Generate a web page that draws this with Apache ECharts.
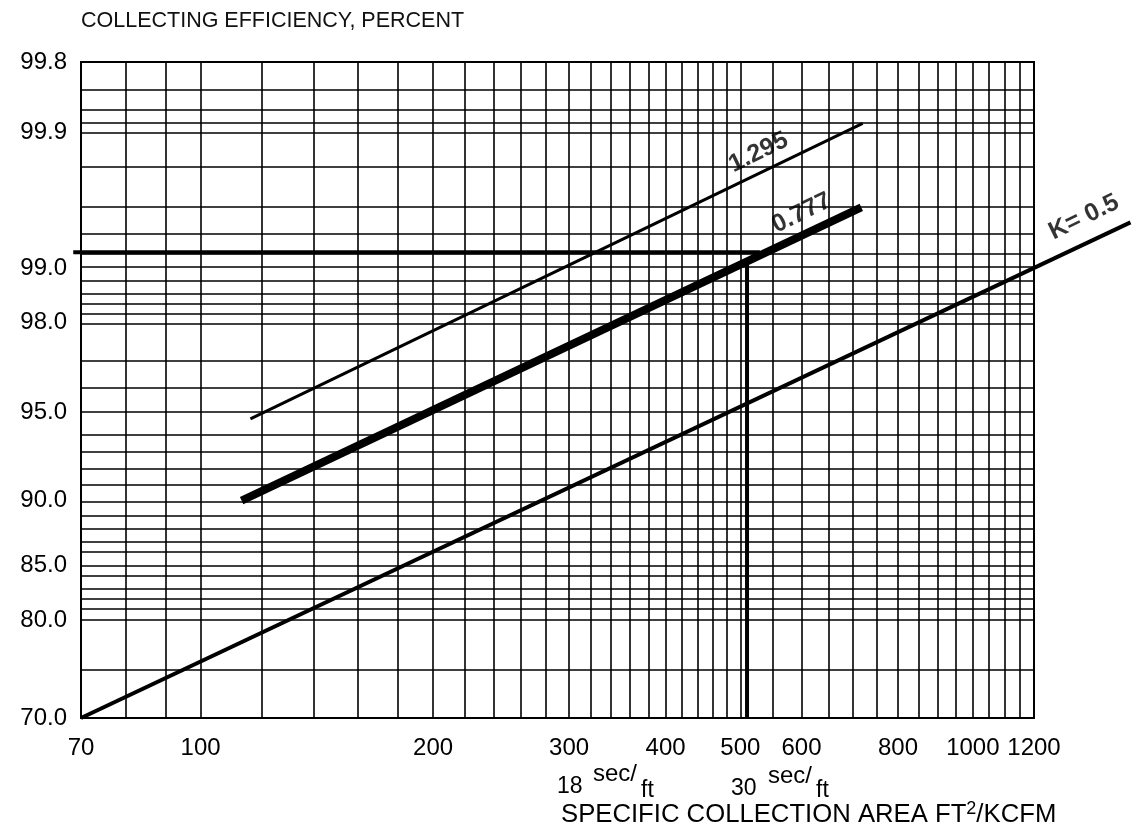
<!DOCTYPE html>
<html>
<head>
<meta charset="utf-8">
<script src="https://cdn.jsdelivr.net/npm/echarts@6/dist/echarts.min.js"></script>
<style>
  html, body { margin: 0; background: #fff; }
  #main { width: 1135px; height: 831px; }
</style>
</head>
<body>
<div id="main"></div>
<script>
// efficiency axis is drawn as t = ln(-ln(1 - E)), area axis is log10
const xTicks = [70, 100, 200, 300, 400, 500, 600, 800, 1000, 1200]
const yTickPct = [70, 80, 85, 90, 95, 98, 99, 99.9, 99.98]
const yTickText = ['70.0', '80.0', '85.0', '90.0', '95.0', '98.0', '99.0', '99.9', '99.8']

const xGrid = [80, 90, 100, 120, 140, 160, 180, 200, 220, 240, 260, 280, 300, 320, 340, 360, 380,
  400, 420, 440, 460, 480, 500, 550, 600, 650, 700, 750, 800, 850, 900, 950, 1000, 1050, 1100, 1150]
const yGrid = [75, 80, 81, 82, 83, 84, 85, 86, 87, 88, 89, 90, 91, 92, 93, 94, 95, 96, 97, 98,
  98.2, 98.4, 98.6, 98.8, 99, 99.2, 99.4, 99.6, 99.8, 99.9, 99.92, 99.94, 99.96]

// [area ft2/kcfm, efficiency %]
const lineK05 = [[70, 70.0], [1600, 99.49]]
const line0777 = [[113, 90.0], [717, 99.60]]
const line1295 = [[116, 94.7], [720, 99.917]]
const refLevel = [[68.4, 99.2], [530, 99.2]]
const refArea = [[510, 99.05], [510, 70.0]]

const lineLabels = ['1.295', '0.777', 'K= 0.5']
const labelX = [528, 600, 1393]
const labelY = [99.85, 99.56, 99.53]

const FONT = 'Liberation Sans, Arial, Helvetica, sans-serif'

function tOf (p) {
  return Math.log(-Math.log(1 - p / 100))
}
function toXY (arr) {
  return arr.map(d => [d[0], tOf(d[1])])
}

const yTickT = yTickPct.map(tOf)

// second, wider grid with the same scale so lines can run past the frame
const plotW = 1135 - 81 - 101
const pxPerDecade = plotW / Math.log10(1200 / 70)
const wideMin = 70 * Math.pow(10, -8 / pxPerDecade)
const wideMax = 70 * Math.pow(10, (1135 - 81) / pxPerDecade)

const chart = echarts.init(document.getElementById('main'))

function plainLine (name, data, width, axisIdx) {
  return {
    name: name,
    type: 'line',
    xAxisIndex: axisIdx,
    yAxisIndex: axisIdx,
    data: toXY(data),
    showSymbol: false,
    clip: false,
    z: 5,
    lineStyle: { color: '#000', width: width, cap: 'butt' },
    silent: true
  }
}

const sub = { fontFamily: FONT, color: '#000' }

chart.setOption({
  animation: false,
  backgroundColor: '#fff',
  title: {
    text: 'COLLECTING EFFICIENCY, PERCENT',
    left: 81,
    top: 10,
    padding: 0,
    textStyle: { fontFamily: FONT, fontSize: 21.5, fontWeight: 'normal', color: '#111' }
  },
  grid: [
    {
      left: 81,
      right: 101,
      top: 62,
      bottom: 113,
      show: true,
      borderColor: '#000',
      borderWidth: 2,
      backgroundColor: 'transparent'
    },
    { left: 73, right: 0, top: 62, bottom: 113, show: false }
  ],
  xAxis: [
    {
      type: 'log',
      logBase: 10,
      min: 70,
      max: 1200,
      axisLine: { show: false },
      axisTick: { show: false },
      splitLine: { show: false },
      axisLabel: {
        customValues: xTicks,
        formatter: v => String(Math.round(v)),
        fontFamily: FONT,
        fontSize: 24,
        color: '#000',
        margin: 18
      }
    },
    { type: 'log', logBase: 10, gridIndex: 1, min: wideMin, max: wideMax, show: false }
  ],
  yAxis: [
    {
      type: 'value',
      min: tOf(70),
      max: tOf(99.98),
      axisLine: { show: false },
      axisTick: { show: false },
      splitLine: { show: false },
      axisLabel: {
        customValues: yTickT,
        formatter: v => {
          const i = yTickT.findIndex(t => Math.abs(t - v) < 1e-6)
          return i >= 0 ? yTickText[i] : ''
        },
        fontFamily: FONT,
        fontSize: 24,
        color: '#000',
        margin: 14
      }
    },
    { type: 'value', gridIndex: 1, min: tOf(70), max: tOf(99.98), show: false }
  ],
  graphic: [
    { type: 'text', left: 557, top: 775, style: { text: '18', font: '23px ' + FONT, fill: '#000' } },
    { type: 'text', left: 593, top: 762, style: { text: 'sec/', font: '24px ' + FONT, fill: '#000' } },
    { type: 'text', left: 641, top: 779, style: { text: 'ft', font: '23px ' + FONT, fill: '#000' } },
    { type: 'text', left: 731, top: 777, style: { text: '30', font: '23px ' + FONT, fill: '#000' } },
    { type: 'text', left: 768, top: 764, style: { text: 'sec/', font: '24px ' + FONT, fill: '#000' } },
    { type: 'text', left: 816, top: 779, style: { text: 'ft', font: '23px ' + FONT, fill: '#000' } },
    {
      type: 'text',
      left: 561,
      top: 800,
      style: {
        text: '{a|SPECIFIC COLLECTION AREA FT}{s|2}{a|/KCFM}',
        rich: {
          a: Object.assign({ fontSize: 25.7, lineHeight: 28, verticalAlign: 'bottom' }, sub),
          s: Object.assign({ fontSize: 18, lineHeight: 28, verticalAlign: 'top' }, sub)
        }
      }
    }
  ],
  series: [
    {
      name: 'grid',
      type: 'line',
      data: [],
      z: 1,
      markLine: {
        silent: true,
        symbol: ['none', 'none'],
        label: { show: false },
        lineStyle: { color: '#000', width: 1.6, type: 'solid' },
        emphasis: { disabled: true },
        data: xGrid.map(v => ({ xAxis: v })).concat(yGrid.map(p => ({ yAxis: tOf(p) })))
      }
    },
    plainLine('K = 0.5', lineK05, 4, 1),
    plainLine('0.777', line0777, 8, 0),
    plainLine('1.295', line1295, 3, 0),
    plainLine('level', refLevel, 4, 1),
    plainLine('area', refArea, 4, 0),
    {
      name: 'labels',
      type: 'scatter',
      symbolSize: 0,
      clip: false,
      z: 6,
      silent: true,
      data: labelX.map((x, i) => ({ name: lineLabels[i], value: [x, tOf(labelY[i])] })),
      label: {
        show: true,
        position: 'inside',
        formatter: '{b}',
        rotate: 26,
        fontFamily: FONT,
        fontWeight: 'bold',
        fontSize: 25,
        color: '#000'
      }
    }
  ]
})
</script>
</body>
</html>
